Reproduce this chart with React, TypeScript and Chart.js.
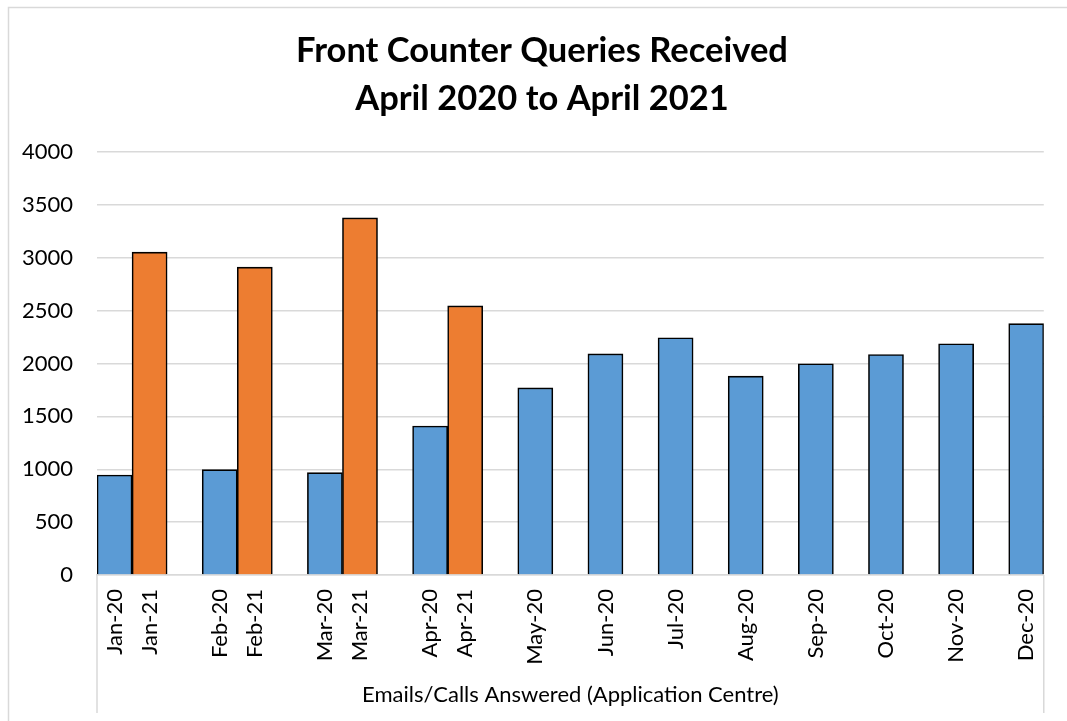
import React, { useEffect, useRef } from "react";
import { Chart, registerables } from "chart.js";

Chart.register(...registerables);

const titleLines = ["Front Counter Queries Received", "April 2020 to April 2021"];
const axisTitle = "Emails/Calls Answered (Application Centre)";

const categories = [
  "Jan-20", "Jan-21", "",
  "Feb-20", "Feb-21", "",
  "Mar-20", "Mar-21", "",
  "Apr-20", "Apr-21", "",
  "May-20", "", "Jun-20", "", "Jul-20", "", "Aug-20", "",
  "Sep-20", "", "Oct-20", "", "Nov-20", "", "Dec-20",
];

const series2020 = [
  946, null, null,
  996, null, null,
  968, null, null,
  1409, null, null,
  1769, null, 2091, null, 2243, null, 1880, null,
  1997, null, 2085, null, 2187, null, 2377,
];

const series2021 = [
  null, 3053, null,
  null, 2911, null,
  null, 3377, null,
  null, 2545, null,
  null, null, null, null, null, null, null, null,
  null, null, null, null, null, null, null,
];

const yTicks = { min: 0, max: 4000, step: 500 };

const FONT = "Lato, 'Open Sans', sans-serif";

const framePlugin = {
  id: "frame",
  beforeDraw(chart: any) {
    const ctx = chart.ctx;
    ctx.save();
    ctx.fillStyle = "#ffffff";
    ctx.fillRect(0, 0, chart.width, chart.height);
    ctx.strokeStyle = "#d9d9d9";
    ctx.lineWidth = 1.5;
    ctx.strokeRect(8.5, 7.5, chart.width + 20, chart.height + 20);
    ctx.restore();
  },
  afterDraw(chart: any) {
    const ctx = chart.ctx;
    const a = chart.chartArea;
    ctx.save();
    ctx.strokeStyle = "#d9d9d9";
    ctx.lineWidth = 1.5;
    ctx.beginPath();
    ctx.moveTo(a.left, a.bottom);
    ctx.lineTo(a.left, 713);
    ctx.moveTo(a.right, a.bottom);
    ctx.lineTo(a.right, 713);
    ctx.stroke();
    // chart title, centred over the chart frame
    ctx.fillStyle = "#000000";
    ctx.font = `bold 34.5px ${FONT}`;
    ctx.textAlign = "center";
    ctx.textBaseline = "middle";
    titleLines.forEach((line, i) => {
      ctx.fillText(line, 542, 51 + i * 48);
    });
    ctx.restore();
  },
};

export default function App() {
  const ref = useRef<HTMLCanvasElement | null>(null);

  useEffect(() => {
    if (!ref.current) return;
    const chart = new Chart(ref.current, {
      type: "bar",
      data: {
        labels: categories,
        datasets: [
          {
            label: "2020",
            data: series2020 as any,
            backgroundColor: "#5B9BD5",
            borderColor: "#000000",
            borderWidth: 1.6,
            grouped: false,
            barPercentage: 1,
            categoryPercentage: 1,
          } as any,
          {
            label: "2021",
            data: series2021 as any,
            backgroundColor: "#ED7D31",
            borderColor: "#000000",
            borderWidth: 1.6,
            grouped: false,
            barPercentage: 1,
            categoryPercentage: 1,
          } as any,
        ],
      },
      options: {
        responsive: false,
        animation: false,
        layout: { padding: { left: 0, right: 19, top: 152, bottom: 0 } },
        plugins: {
          legend: { display: false },
          tooltip: { enabled: false },
          title: { display: false },
        },
        scales: {
          x: {
            afterFit(scale: any) {
              scale.height = 146;
            },
            grid: { display: false, drawTicks: false },
            border: { display: true, color: "#d9d9d9", width: 1.5 },
            ticks: {
              autoSkip: false,
              minRotation: 90,
              maxRotation: 90,
              padding: 14,
              color: "#000000",
              font: { family: FONT, size: 22 },
            },
            title: {
              display: true,
              text: axisTitle,
              color: "#000000",
              font: { family: FONT, size: 22 },
              padding: { top: 0, bottom: 13 },
            },
          },
          y: {
            min: yTicks.min,
            max: yTicks.max,
            afterFit(scale: any) {
              scale.width = 97;
            },
            grid: { color: "#d9d9d9", lineWidth: 1.5, drawTicks: false },
            border: { display: false },
            ticks: {
              stepSize: yTicks.step,
              padding: 24,
              color: "#000000",
              font: { family: FONT, size: 22 },
              callback: (v: any) => String(v),
            },
          },
        },
      },
      plugins: [framePlugin],
    });
    return () => chart.destroy();
  }, []);

  return (
    <div style={{ position: "fixed", left: 0, top: 0, width: 1067, height: 721, background: "#fff" }}>
      <canvas ref={ref} width={1067} height={721} style={{ display: "block" }} />
    </div>
  );
}
